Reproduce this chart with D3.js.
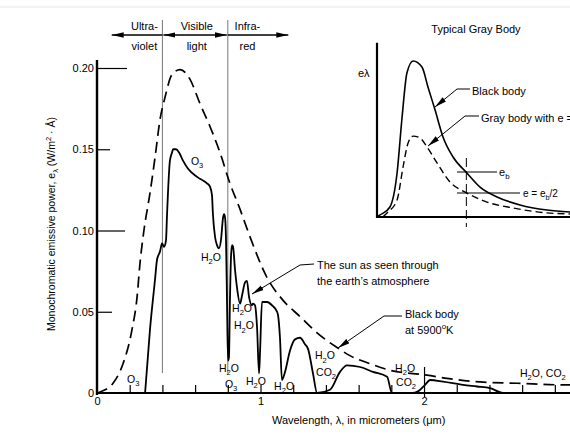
<!DOCTYPE html>
<html><head><meta charset="utf-8">
<script src="https://cdn.jsdelivr.net/npm/d3@7"></script>
<style>
body{margin:0;background:#fff;}
svg{display:block;font-family:"Liberation Sans",Arial,Helvetica,sans-serif;}
</style></head><body>
<svg id="c" width="570" height="439"></svg>
<script>
// ---------- data ----------
const xTickValues = [0,0.2,0.4,0.6,0.8,1.0,1.2,1.4,1.6,1.8,2.0,2.2,2.4,2.6,2.8];
const xTickLabels = {0:"0",1:"1",2:"2"};
const yTickValues = [0,0.05,0.10,0.15,0.20];
const yTickLabels = ["0","0.05","0.10","0.15","0.20"];

const sunWavelength = [0.294,0.324,0.355,0.367,0.385,0.398,0.410,0.422,0.428,0.434,
 0.446,0.459,0.465,0.483,0.502,0.526,0.557,0.612,0.673,0.691,
 0.703,0.709,0.722,0.734,0.746,0.758,0.771,0.777,0.783,0.789,
 0.795,0.801,0.807,0.813,0.820,0.826,0.832,0.844,0.856,0.875,
 0.887,0.905,0.917,0.930,0.948,0.954,0.966,0.979,0.991,0.997,
 1.009,1.015,1.040,1.070,1.101,1.107,1.119,1.131,1.150,1.180,
 1.211,1.242,1.272,1.291,1.321,1.346,1.425,1.486,1.529,1.609,
 1.688,1.774,1.804,1.927,1.963,2.006,2.037,2.116,2.239,2.324,
 2.404,2.483,2.9];
const sunPower = [0,0.039,0.070,0.082,0.087,0.092,0.090,0.094,0.109,0.123,
 0.143,0.148,0.150,0.150,0.148,0.143,0.138,0.133,0.129,0.127,
 0.122,0.110,0.096,0.091,0.089,0.094,0.108,0.110,0.108,0.094,
 0.057,0.020,0.022,0.057,0.085,0.091,0.090,0.076,0.065,0.055,
 0.060,0.068,0.069,0.059,0.054,0.055,0.054,0.040,0.012,0.025,
 0.056,0.056,0.056,0.054,0.050,0.048,0.034,0.008,0.013,0.026,
 0.033,0.034,0.030,0.027,0.012,0,0.002,0.013,0.017,0.016,
 0.013,0.010,0,0,0.001,0.005,0.008,0.007,0.005,0.004,
 0.003,0,0];

const blackBodyWavelength = [0,0.018,0.098,0.159,0.214,0.245,0.263,0.287,0.324,0.355,
 0.385,0.416,0.459,0.508,0.569,0.630,0.691,0.752,0.813,0.875,
 0.936,1.040,1.138,1.242,1.346,1.468,1.547,1.670,1.792,2.018,
 2.141,2.343,2.569,2.850,2.9];
const blackBodyPower = [0,0.0006,0.006,0.018,0.039,0.059,0.080,0.100,0.123,0.145,
 0.168,0.182,0.196,0.199,0.193,0.178,0.164,0.148,0.129,0.113,
 0.096,0.071,0.057,0.047,0.037,0.028,0.023,0.018,0.014,0.011,
 0.009,0.0068,0.006,0.005,0.005];

// inset (arbitrary units 0..10)
const insetBlackX = [0,0.16,0.67,1.04,1.30,1.55,1.87,2.33,2.64,3.01,3.42,3.94,4.66,5.34,6.22,7.41,8.81,10];
const insetBlackY = [0,0.12,0.59,2.59,5.88,8.47,9.18,8.82,7.65,6.29,4.71,3.53,2.59,1.76,1.18,0.71,0.41,0.29];
const insetGrayX = [0.3,0.52,1.04,1.35,1.61,1.87,2.23,2.59,3.11,3.78,4.66,5.70,7.05,8.81,10];
const insetGrayY = [0,0.24,1.0,2.94,4.35,4.76,4.65,4.12,3.18,2.06,1.41,0.88,0.53,0.24,0.18];
const insetMarkX = 4.63;

// absorption labels: text, wavelength, power
const bandLabels = [
 ["O_3",0.612,0.142],["H_2O",0.697,0.083],["H_2O",0.887,0.052],["H_2O",0.899,0.041],
 ["H_2O",0.807,0.015],["O_3",0.820,0.005],["H_2O",0.972,0.007],["H_2O",1.144,0.004],
 ["H_2O",1.394,0.0225],["CO_2",1.401,0.0125],["H_2O",1.884,0.0150],["CO_2",1.890,0.0062],
 ["O_3",0.222,0.008]
];

// ---------- drawing ----------
const svg = d3.select("#c");
const FS = 11;
const x = d3.scaleLinear().domain([0,2.9]).range([97,571.2]);
const y = d3.scaleLinear().domain([0,0.2]).range([393,68]);

function rich(t, str, fs){
  const parts=[]; let i=0;
  while(i<str.length){
    const c=str[i];
    if(c==="_"||c==="^"){parts.push([str[i+1], c==="_"?"sub":"sup"]); i+=2;}
    else { let j=i; while(j<str.length && str[j]!=="_" && str[j]!=="^") j++; parts.push([str.slice(i,j),"n"]); i=j; }
  }
  let shift=0;
  parts.forEach(([s,k])=>{
    const target = k==="sub"? 0.3*fs : k==="sup"? -0.42*fs : 0;
    const ts=t.append("tspan").attr("font-size", k==="n"?fs:fs*0.72).text(s);
    if(target-shift!==0) ts.attr("dy", target-shift);
    shift=target;
  });
  return t;
}

const defs = svg.append("defs");
defs.append("marker").attr("id","ah").attr("viewBox","0 0 12 6").attr("refX",12).attr("refY",3)
  .attr("markerWidth",12).attr("markerHeight",6).attr("markerUnits","userSpaceOnUse")
  .attr("orient","auto-start-reverse")
  .append("path").attr("d","M0,0.3L12,3L0,5.7Z").attr("fill","#000");

// faint scan line at top
svg.append("line").attr("x1",0).attr("x2",570).attr("y1",7).attr("y2",7).attr("stroke","#e6e6e6").attr("stroke-width",1);

// region dividers
[0.4,0.8].forEach(v=>{
  svg.append("line").attr("x1",x(v)).attr("x2",x(v)).attr("y1",20).attr("y2",y(0)-20)
    .attr("stroke","#666").attr("stroke-width",0.9);
});
// region arrows
const arrowY = 35;
svg.append("line").attr("x1",x(0.4)).attr("x2",x(0.09)).attr("y1",arrowY).attr("y2",arrowY)
  .attr("stroke","#000").attr("stroke-width",1.4).attr("marker-end","url(#ah)");
svg.append("line").attr("x1",x(0.4)+1).attr("x2",x(0.8)-1).attr("y1",arrowY).attr("y2",arrowY)
  .attr("stroke","#000").attr("stroke-width",1.4).attr("marker-end","url(#ah)").attr("marker-start","url(#ah)");
svg.append("line").attr("x1",x(0.8)).attr("x2",x(1.17)).attr("y1",arrowY).attr("y2",arrowY)
  .attr("stroke","#000").attr("stroke-width",1.4).attr("marker-end","url(#ah)");
[["Ultra-","violet",0.29],["Visible","light",0.61],["Infra-","red",0.92]].forEach(([a,b,v])=>{
  svg.append("text").attr("x",x(v)).attr("y",30).attr("text-anchor","middle").attr("font-size",FS).text(a);
  svg.append("text").attr("x",x(v)).attr("y",50).attr("text-anchor","middle").attr("font-size",FS).text(b);
});

// x axis
const xAxis = svg.append("g").attr("transform",`translate(0,${y(0)})`)
  .call(d3.axisBottom(x).tickValues(xTickValues).tickSizeInner(-8).tickSizeOuter(0).tickPadding(4)
    .tickFormat(d=> xTickLabels[Math.round(d*10)/10] ?? ""));
xAxis.select(".domain").attr("stroke-width",2.2).attr("d",`M${x(0)-1},0H570`);
xAxis.selectAll(".tick line").attr("stroke-width",1.2).filter(d=>d===0).remove();
xAxis.selectAll(".tick line").filter(d=>Math.abs(d-2)<1e-9).attr("y1",4).attr("y2",-26);
xAxis.selectAll(".tick text").attr("font-size",FS).attr("font-family",null).attr("fill","#000");

// y axis
const yTickLen = [0,15,28,13,30];
const yAxis = svg.append("g").attr("transform",`translate(${x(0)},0)`)
  .call(d3.axisLeft(y).tickValues(yTickValues).tickSize(0).tickPadding(3)
    .tickFormat((d,i)=>yTickLabels[i]));
yAxis.select(".domain").remove();
yAxis.selectAll(".tick line").attr("x2",(d,i)=>yTickLen[i]).attr("stroke-width",1.2);
yAxis.selectAll(".tick text").attr("font-size",FS).attr("font-family",null).attr("fill","#000");
svg.append("line").attr("x1",x(0)).attr("x2",x(0)).attr("y1",y(0)+2).attr("y2",y(0.2)-8)
  .attr("stroke","#000").attr("stroke-width",2.4);

// axis titles
rich(svg.append("text").attr("x",x(1.6)).attr("y",424).attr("text-anchor","middle"),
  "Wavelength, λ, in micrometers (μm)", FS);
rich(svg.append("text").attr("transform","translate(55,224) rotate(-90)").attr("text-anchor","middle"),
  "Monochromatic emissive power, e_λ (W/m^2 · Å)", 10.5);

// curves
const line = d3.line().x(d=>x(d[0])).y(d=>y(d[1])).curve(d3.curveMonotoneX);
svg.append("path").datum(blackBodyWavelength.map((w,i)=>[w,blackBodyPower[i]]))
  .attr("d",line).attr("fill","none").attr("stroke","#000").attr("stroke-width",1.7)
  .attr("stroke-dasharray","11,6");
svg.append("path").datum(sunWavelength.map((w,i)=>[w,sunPower[i]]))
  .attr("d",line).attr("fill","none").attr("stroke","#000").attr("stroke-width",1.8)
  .attr("stroke-linejoin","round");

// band labels
bandLabels.forEach(([t,w,p])=>{
  rich(svg.append("text").attr("x",x(w)).attr("y",y(p)+3).attr("text-anchor","middle"), t, 10.5);
});
rich(svg.append("text").attr("x",520).attr("y",y(0.012)+3), "H_2O, CO_2", 10.5);

// annotations
const lead = d3.line();
svg.append("path").attr("d",lead([[314,264],[300,265],[252,294]])).attr("fill","none")
  .attr("stroke","#000").attr("stroke-width",1).attr("marker-end","url(#ah)");
svg.append("text").attr("x",317).attr("y",269).attr("font-size",FS).text("The sun as seen through");
svg.append("text").attr("x",317).attr("y",285).attr("font-size",FS).text("the earth’s atmosphere");
svg.append("path").attr("d",lead([[402,316],[384,316],[338,348]])).attr("fill","none")
  .attr("stroke","#000").attr("stroke-width",1).attr("marker-end","url(#ah)");
svg.append("text").attr("x",405).attr("y",318).attr("font-size",FS).text("Black body");
rich(svg.append("text").attr("x",405).attr("y",334), "at 5900^oK", FS);

// ---------- inset ----------
const ix = d3.scaleLinear().domain([0,10]).range([377,570]);
const iy = d3.scaleLinear().domain([0,10]).range([217,47]);
svg.append("text").attr("x",476).attr("y",33).attr("text-anchor","middle").attr("font-size",FS).text("Typical Gray Body");
svg.append("line").attr("x1",ix(0)).attr("x2",ix(0)).attr("y1",iy(0)+1).attr("y2",iy(10.25))
  .attr("stroke","#000").attr("stroke-width",2.2);
svg.append("line").attr("x1",ix(0)-1).attr("x2",570).attr("y1",iy(0)).attr("y2",iy(0))
  .attr("stroke","#000").attr("stroke-width",2.2);
svg.append("text").attr("x",358).attr("y",77).attr("font-size",FS).text("eλ");
const iline = d3.line().x(d=>ix(d[0])).y(d=>iy(d[1])).curve(d3.curveMonotoneX);
svg.append("path").datum(insetBlackX.map((v,i)=>[v,insetBlackY[i]])).attr("d",iline)
  .attr("fill","none").attr("stroke","#000").attr("stroke-width",1.6);
svg.append("path").datum(insetGrayX.map((v,i)=>[v,insetGrayY[i]])).attr("d",iline)
  .attr("fill","none").attr("stroke","#000").attr("stroke-width",1.4).attr("stroke-dasharray","7,4");
svg.append("line").attr("x1",ix(insetMarkX)).attr("x2",ix(insetMarkX)).attr("y1",158).attr("y2",227)
  .attr("stroke","#000").attr("stroke-width",1).attr("stroke-dasharray","9,4");
// eb marks
svg.append("line").attr("x1",457).attr("x2",497).attr("y1",172).attr("y2",172).attr("stroke","#000").attr("stroke-width",1);
rich(svg.append("text").attr("x",499).attr("y",176), "e_b", FS);
svg.append("line").attr("x1",457).attr("x2",520).attr("y1",193).attr("y2",193).attr("stroke","#000").attr("stroke-width",1);
rich(svg.append("text").attr("x",523).attr("y",197), "e = e_b/2", 10);
// inset leaders
svg.append("path").attr("d",lead([[470,89],[457,89],[435,107]])).attr("fill","none")
  .attr("stroke","#000").attr("stroke-width",1).attr("marker-end","url(#ah)");
svg.append("text").attr("x",472).attr("y",95).attr("font-size",FS).text("Black body");
svg.append("path").attr("d",lead([[479,116],[465,116],[428,146]])).attr("fill","none")
  .attr("stroke","#000").attr("stroke-width",1).attr("marker-end","url(#ah)");
svg.append("text").attr("x",481).attr("y",122).attr("font-size",FS).text("Gray body with e = 0.5");
</script>
</body></html>
